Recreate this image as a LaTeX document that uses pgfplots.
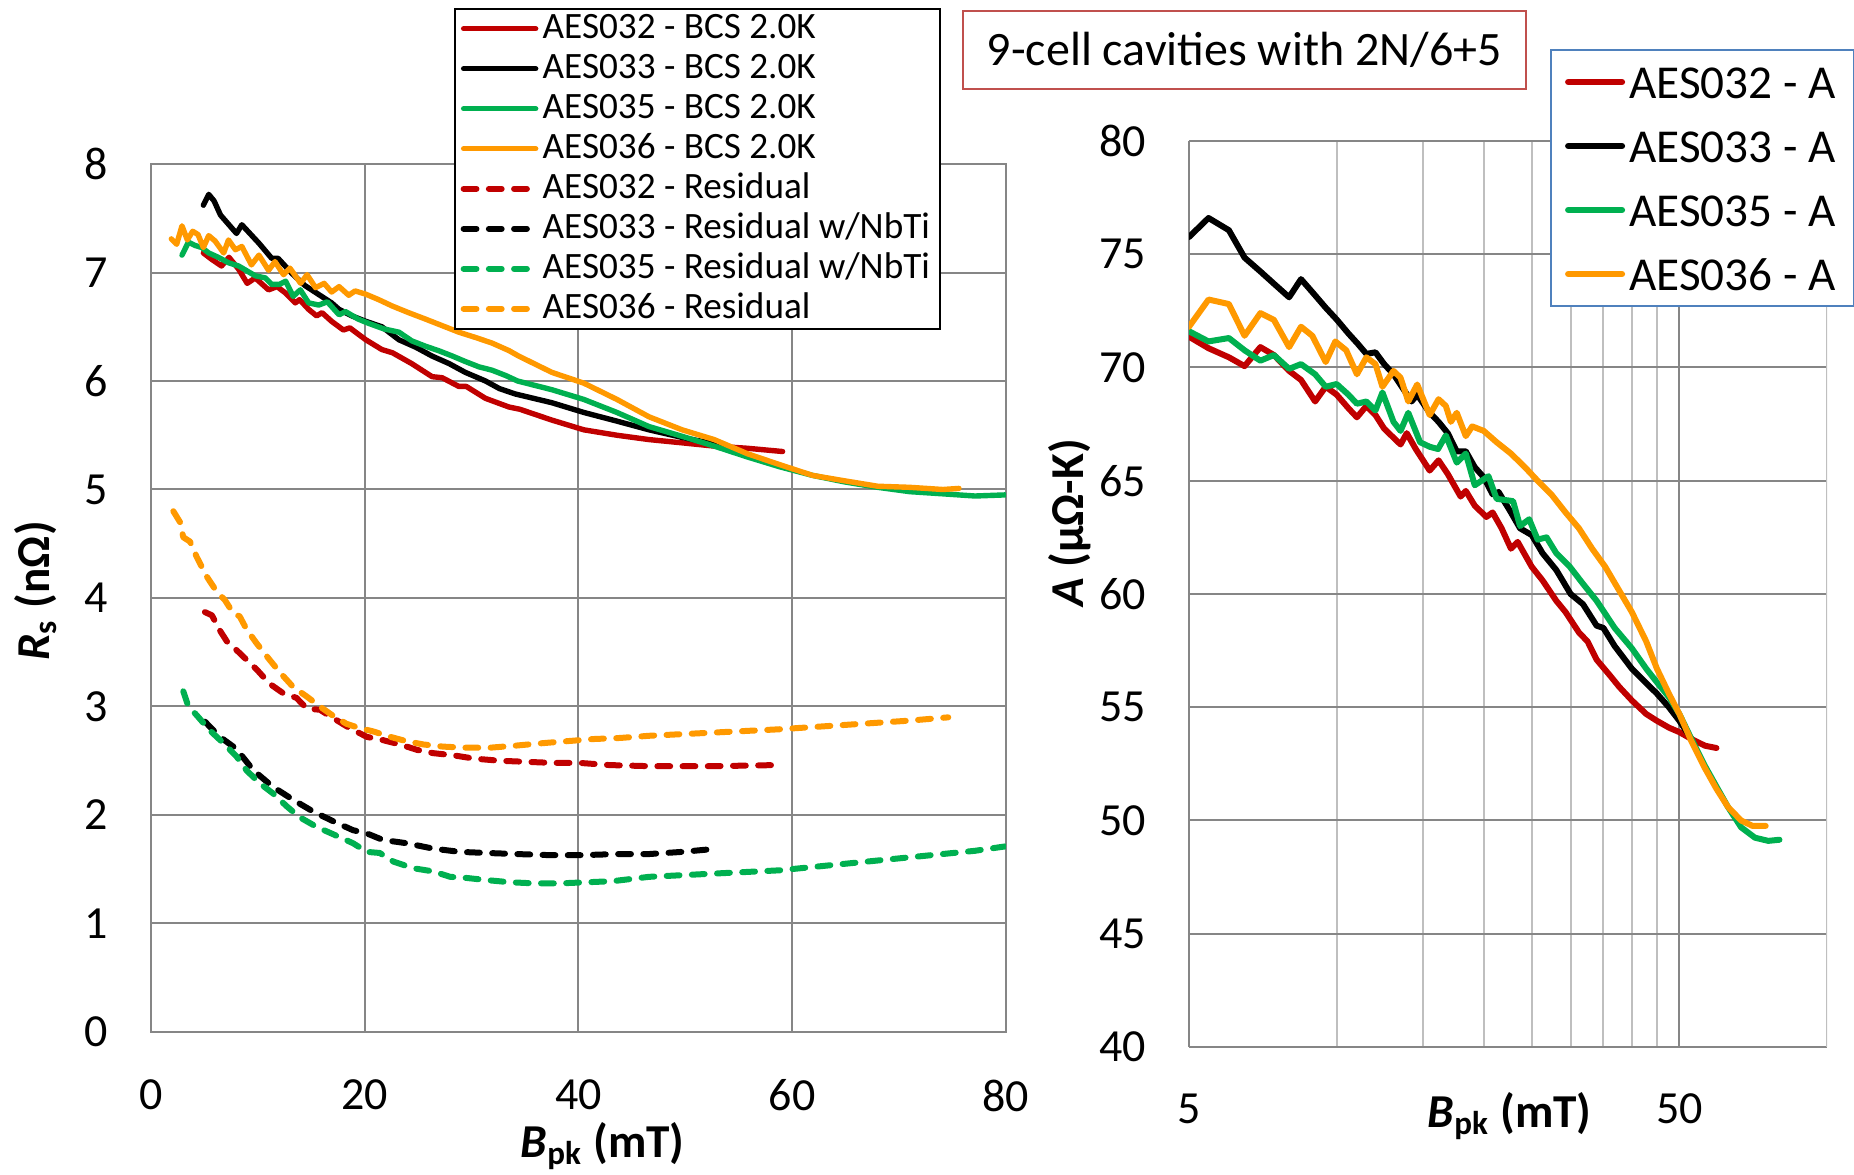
\documentclass[border=0pt]{standalone}
\usepackage{fontspec}
\setmainfont{Carlito}
\usepackage{pgfplots}
\pgfplotsset{compat=1.18}
\definecolor{xred}{RGB}{192,0,0}
\definecolor{xgreen}{RGB}{0,176,80}
\definecolor{xorange}{RGB}{255,153,0}
\definecolor{gridc}{RGB}{134,134,134}
\definecolor{minorc}{RGB}{191,191,191}
\definecolor{titlered}{RGB}{192,80,77}
\definecolor{legblue}{RGB}{79,129,189}
\begin{document}
\begin{tikzpicture}
\path[use as bounding box] (0,0) rectangle (463.5pt,293.75pt);
\pgfplotsset{
  common/.style={
    scale only axis, anchor=south west,
    major tick length=0pt, minor tick length=0pt,
    major grid style={draw=gridc, line width=0.5pt},
    minor grid style={draw=minorc, line width=0.5pt},
    axis line style={draw=gridc, line width=0.5pt},
    tick label style={font=\fontsize{11.5}{12}\selectfont},
    /pgf/number format/assume math mode=true,
    legend cell align=left,
  },
  sol/.style={line width=1.35pt, line join=round, line cap=round},
  solr/.style={line width=1.5pt, line join=round, line cap=round},
  das/.style={line width=1.5pt, line join=round, line cap=round, dash pattern=on 3.2pt off 3.1pt},
}
% ---------------- left axis ----------------
\begin{axis}[common,
  at={(37.75pt,35.75pt)}, width=213.75pt, height=217pt,
  xmin=0, xmax=80, ymin=0, ymax=8,
  xtick={0,20,40,60,80}, ytick={0,1,...,8},
  grid=major,
  xticklabel shift=8.4pt, yticklabel shift=7.2pt,
  legend style={at={(0.354,1.180)}, anchor=north west, draw=black, line width=0.5pt,
    fill=white, inner xsep=1.5pt, inner ysep=0pt, row sep=0pt,
    font=\fontsize{9.3}{10}\selectfont,
    nodes={inner sep=1pt, text height=6.5pt, text depth=1.5pt}},
  legend image code/.code={\draw[#1] (0pt,0pt) -- (18pt,0pt);},
]
\addplot[sol, xred] coordinates {(4.9,7.18)(5.7,7.12)(6.6,7.06)(7.3,7.14)(8.2,7.03)(9.0,6.90)(9.75,6.95)(11.0,6.84)(11.8,6.87)(12.6,6.81)(13.5,6.72)(13.9,6.75)(14.75,6.66)(15.5,6.60)(16.0,6.63)(16.9,6.55)(18.0,6.47)(18.6,6.49)(20.1,6.38)(21.6,6.29)(22.6,6.26)(24.4,6.16)(26.3,6.04)(27.25,6.03)(28.8,5.95)(29.5,5.95)(31.3,5.84)(33.5,5.76)(34.5,5.74)(37.5,5.64)(40.5,5.55)(43.6,5.50)(46.6,5.46)(49.7,5.43)(52.7,5.40)(55.8,5.38)(59.1,5.35)};
\addlegendentry{AES032 - BCS 2.0K}
\addplot[sol, black] coordinates {(4.9,7.62)(5.4,7.72)(5.9,7.66)(6.5,7.53)(8.0,7.36)(8.5,7.44)(10.1,7.27)(11.3,7.13)(11.9,7.13)(13.2,6.99)(14.4,6.88)(16.9,6.72)(17.6,6.66)(18.8,6.60)(20.1,6.55)(21.6,6.50)(23.2,6.38)(24.8,6.31)(26.3,6.23)(27.9,6.16)(29.4,6.08)(31.3,6.00)(32.6,5.93)(34.1,5.88)(37.5,5.80)(40.5,5.71)(43.6,5.63)(46.6,5.55)(49.7,5.48)(52.7,5.42)(54.0,5.40)};
\addlegendentry{AES033 - BCS 2.0K}
\addplot[sol, xgreen] coordinates {(2.9,7.16)(3.5,7.28)(4.1,7.25)(4.75,7.23)(5.4,7.18)(6.3,7.14)(7.25,7.09)(8.2,7.06)(9.75,6.97)(10.7,6.95)(11.3,6.89)(12.0,6.89)(12.6,6.92)(13.3,6.78)(13.97,6.84)(14.75,6.72)(15.7,6.70)(16.5,6.73)(17.6,6.61)(18.2,6.64)(19.4,6.57)(20.4,6.53)(21.8,6.48)(23.2,6.45)(24.4,6.37)(25.7,6.32)(26.9,6.28)(28.2,6.23)(29.4,6.18)(30.7,6.13)(31.9,6.10)(33.2,6.05)(34.3,6.00)(37.5,5.92)(40.5,5.83)(43.6,5.71)(46.6,5.58)(49.7,5.49)(52.7,5.40)(55.8,5.30)(58.8,5.21)(61.9,5.13)(64.9,5.07)(68.0,5.02)(71.0,4.98)(74.1,4.96)(77.1,4.94)(79.9,4.95)};
\addlegendentry{AES035 - BCS 2.0K}
\addplot[sol, xorange] coordinates {(1.9,7.31)(2.4,7.26)(2.9,7.43)(3.4,7.30)(3.9,7.38)(4.4,7.35)(4.9,7.23)(5.4,7.34)(6.0,7.29)(6.8,7.18)(7.25,7.30)(7.9,7.21)(8.5,7.24)(9.4,7.07)(10.1,7.16)(11.0,7.02)(11.6,7.10)(12.4,6.98)(13.0,7.04)(14.0,6.90)(14.6,6.98)(15.4,6.86)(16.2,6.90)(16.9,6.82)(17.6,6.87)(18.5,6.79)(19.1,6.83)(20.1,6.80)(21.3,6.75)(22.6,6.69)(24.1,6.63)(25.7,6.57)(27.25,6.51)(28.8,6.45)(30.4,6.40)(31.9,6.35)(33.5,6.28)(34.4,6.23)(37.5,6.08)(40.5,5.98)(43.6,5.83)(46.6,5.67)(49.7,5.55)(52.7,5.46)(55.8,5.33)(58.8,5.23)(61.9,5.13)(64.9,5.08)(68.0,5.03)(71.0,5.02)(74.1,5.00)(75.6,5.01)};
\addlegendentry{AES036 - BCS 2.0K}
\addplot[das, xred] coordinates {(5.05,3.87)(5.7,3.84)(6.45,3.70)(7.1,3.60)(8.0,3.52)(8.95,3.43)(9.9,3.34)(11.1,3.21)(12.4,3.12)(13.6,3.08)(14.6,2.98)(15.8,2.97)(17.1,2.89)(18.6,2.80)(20.2,2.72)(21.7,2.69)(23.3,2.65)(24.9,2.60)(26.4,2.57)(28.3,2.55)(30.2,2.52)(32.6,2.50)(35.1,2.49)(37.6,2.48)(40.1,2.48)(42.9,2.46)(46.6,2.45)(52.7,2.45)(58.5,2.46)};
\addlegendentry{AES032 - Residual}
\addplot[das, black] coordinates {(5.05,2.86)(6.45,2.72)(7.7,2.63)(8.3,2.57)(9.6,2.41)(11.4,2.26)(13.3,2.14)(15.2,2.03)(17.1,1.94)(18.9,1.86)(20.2,1.83)(21.7,1.77)(23.9,1.74)(26.4,1.69)(28.9,1.66)(31.4,1.65)(34.2,1.64)(37.3,1.63)(40.4,1.63)(43.6,1.64)(46.6,1.64)(49.7,1.66)(53.0,1.69)};
\addlegendentry{AES033 - Residual w/NbTi}
\addplot[das, xgreen] coordinates {(3.02,3.14)(3.5,3.00)(4.27,2.92)(5.5,2.78)(6.8,2.66)(8.0,2.54)(8.95,2.41)(10.2,2.29)(11.4,2.20)(12.7,2.08)(13.9,1.98)(15.5,1.89)(17.1,1.82)(18.9,1.74)(20.2,1.66)(21.4,1.65)(22.7,1.57)(24.5,1.51)(26.4,1.48)(28.0,1.43)(29.5,1.42)(31.4,1.40)(33.6,1.38)(35.8,1.37)(38.3,1.37)(40.8,1.38)(43.2,1.39)(46.6,1.43)(52.7,1.46)(58.8,1.49)(64.9,1.55)(71.0,1.61)(77.1,1.67)(79.9,1.71)};
\addlegendentry{AES035 - Residual w/NbTi}
\addplot[das, xorange] coordinates {(2.09,4.80)(2.71,4.70)(3.02,4.56)(3.65,4.52)(4.27,4.38)(5.2,4.20)(6.14,4.06)(6.92,3.98)(7.7,3.86)(8.3,3.83)(8.95,3.71)(9.9,3.58)(11.1,3.43)(12.1,3.31)(13.3,3.18)(14.6,3.09)(15.8,3.00)(17.1,2.91)(18.3,2.84)(19.55,2.80)(20.8,2.77)(22.4,2.72)(23.9,2.68)(25.5,2.65)(27.35,2.63)(29.5,2.62)(31.7,2.62)(34.2,2.64)(36.4,2.66)(38.9,2.68)(41.4,2.70)(43.9,2.71)(46.6,2.73)(52.7,2.76)(58.8,2.79)(64.9,2.83)(71.0,2.87)(74.6,2.90)};
\addlegendentry{AES036 - Residual}
\end{axis}
% ---------------- right axis ----------------
\begin{axis}[common,
  at={(297.25pt,32pt)}, width=159.5pt, height=226.5pt,
  xmode=log, xmin=5, xmax=100, ymin=40, ymax=80,
  xtick={5,50}, xticklabels={5,50},
  minor xtick={10,15,20,25,30,35,40,45},
  ytick={40,45,...,80},
  grid=both,
  axis x line*=bottom, axis y line*=left,
  axis line style={-},
  xticklabel shift=8.2pt, yticklabel shift=7.2pt,
  legend style={at={(0.566,1.1015)}, anchor=north west, draw=legblue, line width=0.5pt,
    fill=white, inner xsep=3.5pt, inner ysep=0pt, row sep=0pt,
    font=\fontsize{11.8}{12}\selectfont,
    nodes={inner sep=1pt, text height=11pt, text depth=3pt}},
  legend image code/.code={\draw[#1] (0pt,0pt) -- (13.5pt,0pt);},
]
\draw[draw=minorc, line width=0.5pt] (rel axis cs:1,0) -- (rel axis cs:1,1);
\addplot[solr, xred] coordinates {(5.0,71.36)(5.48,70.85)(6.03,70.45)(6.49,70.06)(6.99,70.9)(7.45,70.55)(8.0,69.85)(8.46,69.45)(9.04,68.5)(9.5,69.15)(10.0,68.8)(10.57,68.2)(11.0,67.8)(11.5,68.3)(12.0,67.9)(12.5,67.3)(13.5,66.6)(13.9,67.1)(14.5,66.4)(15.48,65.45)(16.14,65.9)(16.85,65.3)(17.9,64.3)(18.34,64.55)(19.13,63.9)(20.2,63.4)(20.8,63.6)(21.7,62.9)(22.67,62.0)(23.4,62.3)(25.0,61.2)(26.3,60.6)(28.05,59.7)(29.3,59.2)(31.2,58.3)(32.5,57.9)(33.9,57.1)(36.1,56.4)(37.7,55.9)(40.0,55.3)(42.8,54.7)(45.0,54.4)(47.6,54.1)(50.0,53.9)(52.9,53.6)(56.4,53.3)(59.5,53.2)};
\addlegendentry{AES032 - A}
\addplot[solr, black] coordinates {(5.0,75.76)(5.48,76.6)(6.03,76.06)(6.49,74.85)(6.99,74.24)(7.45,73.7)(8.0,73.1)(8.46,73.9)(8.92,73.33)(9.5,72.64)(10.0,72.12)(10.57,71.5)(11.03,71.06)(11.5,70.6)(12.0,70.67)(12.5,70.15)(13.06,69.7)(13.63,69.1)(14.22,68.5)(14.6,68.8)(15.48,68.0)(16.14,67.6)(16.85,67.1)(17.58,66.3)(18.34,66.3)(19.13,65.6)(19.96,65.15)(20.8,64.4)(21.4,64.5)(22.67,63.6)(23.66,62.9)(25.0,62.6)(26.3,61.8)(28.05,61.06)(30.0,60.0)(31.8,59.55)(33.9,58.6)(35.0,58.5)(36.9,57.7)(40.0,56.7)(42.8,56.06)(45.0,55.6)(47.6,55.0)(50.0,54.4)(52.9,53.6)};
\addlegendentry{AES033 - A}
\addplot[solr, xgreen] coordinates {(5.0,71.6)(5.48,71.15)(6.03,71.3)(6.49,70.76)(6.99,70.3)(7.45,70.55)(8.0,69.94)(8.46,70.15)(9.04,69.7)(9.5,69.15)(10.0,69.27)(10.57,68.8)(11.0,68.4)(11.5,68.5)(12.0,68.1)(12.4,68.9)(13.06,67.6)(13.5,67.2)(14.0,68.0)(14.8,66.7)(15.48,66.5)(16.1,66.4)(16.7,67.0)(17.58,65.8)(18.34,66.2)(19.13,64.8)(20.4,65.2)(21.2,64.2)(22.9,64.1)(23.66,63.0)(24.7,63.3)(25.7,62.4)(26.8,62.5)(28.05,61.8)(29.9,61.2)(31.8,60.45)(33.9,59.7)(36.9,58.5)(40.0,57.6)(42.8,56.7)(45.0,56.1)(47.6,55.45)(50.0,54.7)(52.9,53.6)(56.4,52.4)(59.5,51.5)(62.8,50.6)(66.8,49.7)(71.3,49.24)(75.9,49.1)(80.0,49.15)};
\addlegendentry{AES035 - A}
\addplot[solr, xorange] coordinates {(5.0,71.8)(5.48,73.0)(6.03,72.8)(6.49,71.4)(6.99,72.4)(7.45,72.1)(8.0,70.9)(8.46,71.8)(8.92,71.4)(9.5,70.24)(9.94,71.15)(10.46,70.76)(11.0,69.7)(11.5,70.45)(12.0,70.15)(12.4,69.15)(13.06,69.85)(13.5,69.55)(14.0,68.5)(14.6,69.25)(15.48,67.9)(16.14,68.6)(16.7,68.3)(17.1,67.6)(17.58,68.0)(18.34,66.97)(18.9,67.4)(19.96,67.2)(21.2,66.7)(22.67,66.2)(24.2,65.6)(25.7,65.0)(27.4,64.4)(29.3,63.6)(31.2,62.9)(33.2,62.0)(35.3,61.2)(37.7,60.15)(40.0,59.2)(42.8,57.9)(45.0,56.7)(47.6,55.6)(50.0,54.7)(52.9,53.5)(56.4,52.3)(59.5,51.4)(62.8,50.6)(66.8,50.0)(70.5,49.76)(75.0,49.76)};
\addlegendentry{AES036 - A}
\end{axis}
% ---------------- labels and title ----------------
\node[draw=titlered, line width=0.4pt, anchor=north west, minimum width=140.75pt, minimum height=19.5pt, inner sep=0pt, font=\fontsize{12}{14}\selectfont]
  at (240.5pt,291.25pt) {9-cell cavities with 2N/6+5};
\node[rotate=90, font=\fontsize{11.8}{13}\selectfont\bfseries] at (9pt,146pt) {\textit{R}\textsubscript{s} (nΩ)};
\node[anchor=base west, inner sep=0pt, font=\fontsize{11.8}{13}\selectfont\bfseries] at (130pt,4.4pt) {\textit{B}\textsubscript{pk} (mT)};
\node[anchor=base west, inner sep=0pt, font=\fontsize{11.8}{13}\selectfont\bfseries] at (356.75pt,11.9pt) {\textit{B}\textsubscript{pk} (mT)};
\node[rotate=90, font=\fontsize{11.8}{13}\selectfont\bfseries] at (267.5pt,163pt) {\textit{A} (µΩ-K)};
\end{tikzpicture}
\end{document}
